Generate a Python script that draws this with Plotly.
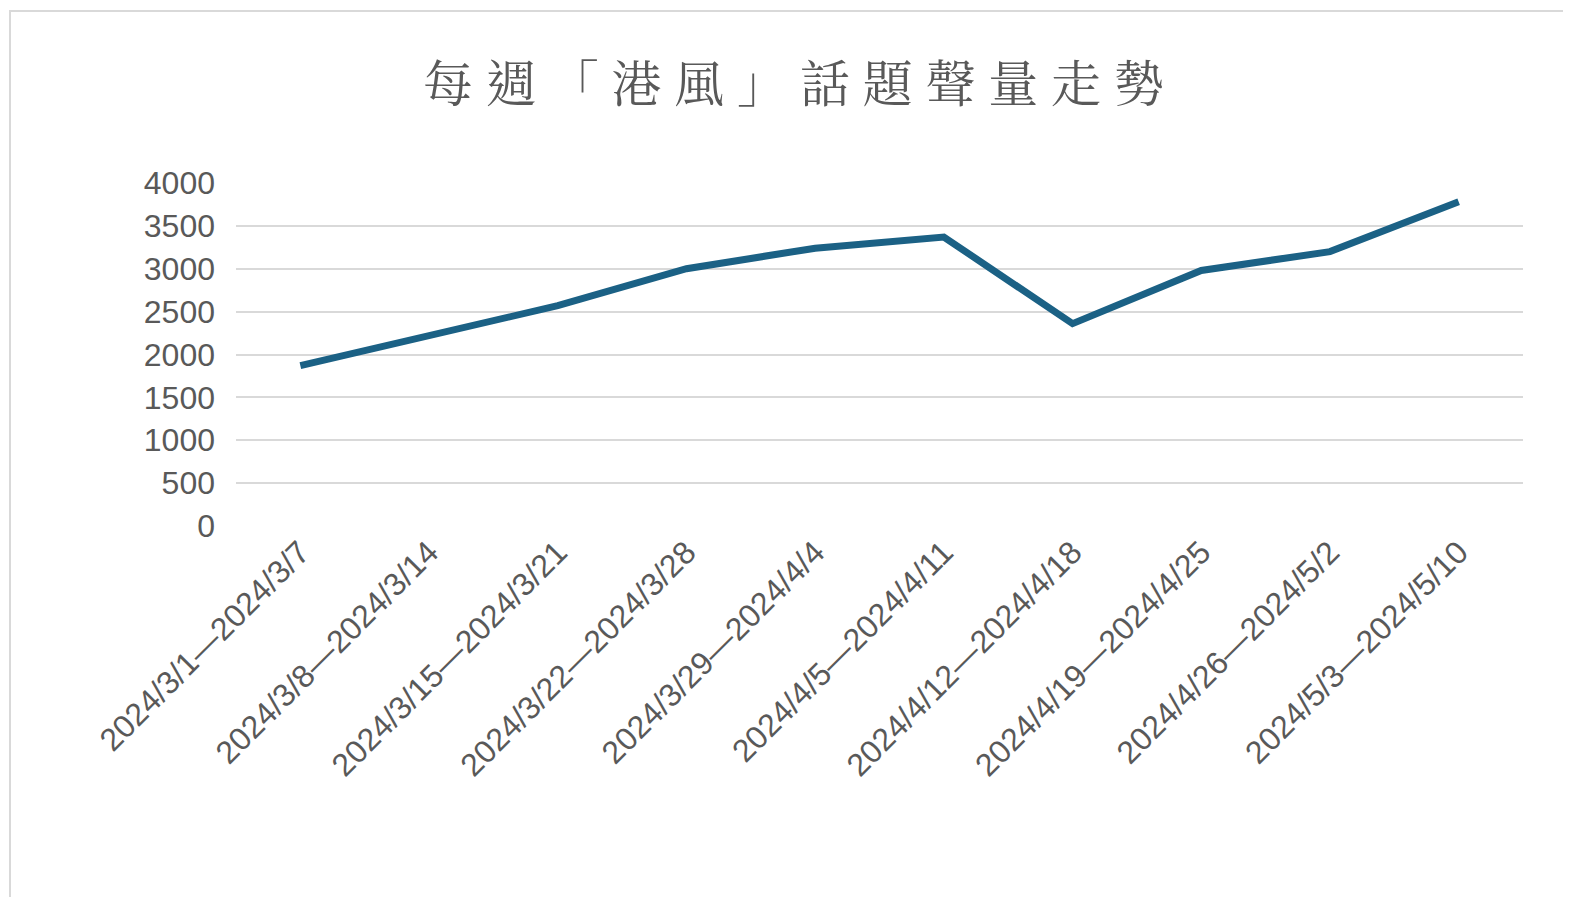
import plotly.graph_objects as go

weeks = ["2024/3/1—2024/3/7", "2024/3/8—2024/3/14", "2024/3/15—2024/3/21",
         "2024/3/22—2024/3/28", "2024/3/29—2024/4/4", "2024/4/5—2024/4/11",
         "2024/4/12—2024/4/18", "2024/4/19—2024/4/25", "2024/4/26—2024/5/2",
         "2024/5/3—2024/5/10"]
volume = [1870, 2220, 2570, 3000, 3240, 3370, 2360, 2980, 3200, 3780]

fig = go.Figure(go.Scatter(x=weeks, y=volume, mode="lines",
                           line=dict(color="#1B6185", width=7)))

fig.update_layout(
    width=1571, height=897,
    paper_bgcolor="white", plot_bgcolor="white",
    margin=dict(l=228, r=56, t=175, b=379),
    showlegend=False,
    title=dict(text="每 週 「 港 風 」 話 題 聲 量 走 勢", x=0.5, xanchor="center",
               y=0.915, yanchor="middle",
               font=dict(family="Noto Serif CJK TC, Noto Sans CJK TC", size=50, color="#595959")),
    font=dict(family="Liberation Sans, Arial", color="#595959"),
    xaxis=dict(tickangle=-45, tickfont=dict(size=32), showgrid=False,
               showline=False, ticks="", range=[-0.5, 9.5], automargin=False),
    yaxis=dict(range=[0, 4000], dtick=500, tickfont=dict(size=32),
               gridcolor="#D9D9D9", gridwidth=2, zeroline=False, ticks="",
               ticklabelstandoff=20, automargin=False),
    shapes=[dict(type="rect", xref="paper", yref="paper",
                 x0=-226/1287, x1=1+53/1287, y0=-376/343, y1=1+172/343,
                 line=dict(color="#D9D9D9", width=2))],
)

fig.write_html("out.html")
